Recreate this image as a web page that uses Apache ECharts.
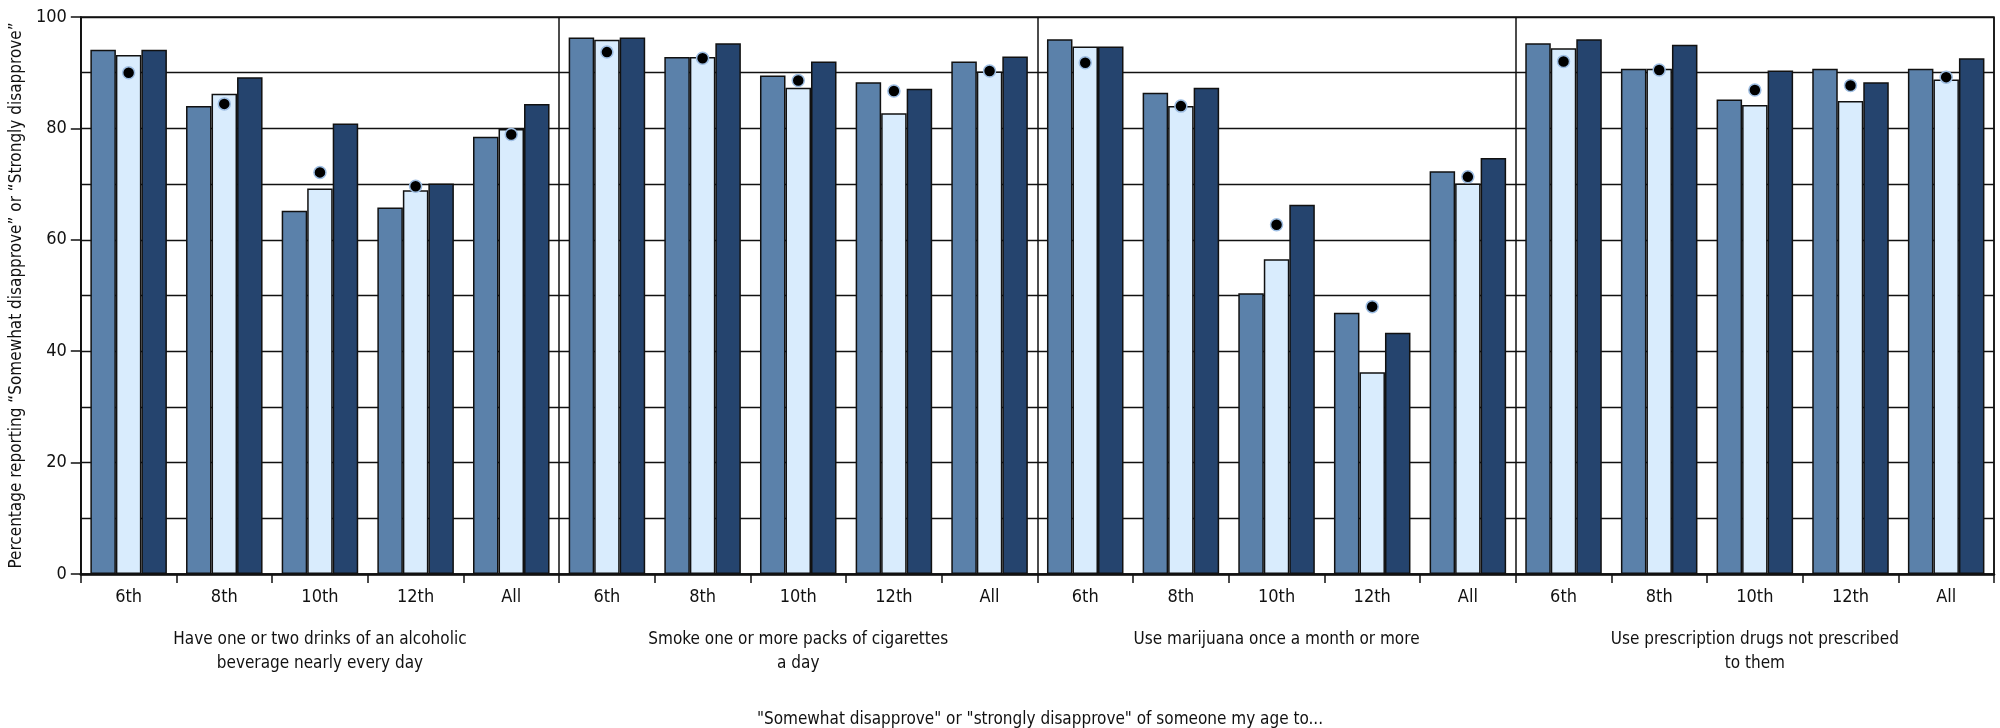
<!DOCTYPE html>
<html>

<head>
    <meta charset="utf-8">
    <script src="https://cdn.jsdelivr.net/npm/echarts@6/dist/echarts.min.js"></script>
</head>

<body style="margin:0">
<div id="main" style="position:absolute;top:0;left:0;width:2000px;height:728px;"></div>
<script type="text/javascript">

    var FONT = "'Liberation Sans Narrow', 'DejaVu Sans Condensed', 'Roboto', sans-serif";

    // grade levels repeated in every behaviour group
    var grades = ['6th', '8th', '10th', '12th', 'All'];
    var behaviors = [
        'Have one or two drinks of an alcoholic\nbeverage nearly every day',
        'Smoke one or more packs of cigarettes\na day',
        'Use marijuana once a month or more',
        'Use prescription drugs not prescribed\nto them'
    ];

    // bar values, one row per behaviour group (6th, 8th, 10th, 12th, All)
    var barFirst = [
        [94.1, 84.0, 65.2, 65.8, 78.5],
        [96.3, 92.8, 89.5, 88.3, 92.0],
        [96.0, 86.4, 50.4, 46.9, 72.3],
        [95.3, 90.7, 85.2, 90.7, 90.7]
    ];
    var barSecond = [
        [93.2, 86.2, 69.2, 68.9, 79.9],
        [95.9, 92.8, 87.3, 82.7, 90.2],
        [94.7, 84.0, 56.5, 36.2, 70.1],
        [94.4, 90.7, 84.2, 84.9, 88.8]
    ];
    var barThird = [
        [94.1, 89.2, 80.9, 70.1, 84.4],
        [96.3, 95.3, 92.0, 87.1, 92.9],
        [94.7, 87.3, 66.3, 43.3, 74.7],
        [96.0, 95.0, 90.4, 88.3, 92.6]
    ];
    // dot markers drawn over the middle bar
    var dots = [
        [90.0, 84.4, 72.1, 69.6, 78.9],
        [93.7, 92.6, 88.6, 86.7, 90.3],
        [91.8, 84.0, 62.7, 48.0, 71.3],
        [92.0, 90.5, 86.9, 87.7, 89.2]
    ];

    function flat(rows) {
        var out = [];
        rows.forEach(function (r) { out = out.concat(r); });
        return out;
    }

    var categories = [];
    behaviors.forEach(function () { categories = categories.concat(grades); });

    var barBorder = {borderColor: '#111', borderWidth: 1.5};

    var myChart = echarts.init(document.getElementById('main'));
    myChart.setOption({
        animation: false,
        textStyle: {fontFamily: FONT},
        title: {
            text: '"Somewhat disapprove" or "strongly disapprove" of someone my age to...',
            left: 1035,
            textAlign: 'center',
            top: 706,
            textStyle: {fontFamily: FONT, fontSize: 17, fontWeight: 'normal', color: '#111'}
        },
        grid: {
            left: 77, right: 6, top: 17, bottom: 154,
            show: true, borderColor: '#111', borderWidth: 1.5
        },
        xAxis: [{
            type: 'category',
            data: categories,
            axisLine: {lineStyle: {color: '#111', width: 2.5}},
            axisTick: {show: true, length: 9, interval: 0, lineStyle: {color: '#111', width: 1.5}},
            axisLabel: {interval: 0, margin: 14, fontSize: 18, color: '#111', fontFamily: FONT},
            splitLine: {show: false}
        }, {
            type: 'category',
            data: behaviors,
            position: 'bottom',
            axisLine: {show: false},
            axisTick: {show: false},
            axisLabel: {interval: 0, margin: 54, fontSize: 17, lineHeight: 24, color: '#111', fontFamily: FONT},
            splitLine: {show: true, interval: 0, lineStyle: {color: '#111', width: 1.5}}
        }],
        yAxis: {
            type: 'value',
            min: 0, max: 100, interval: 20,
            name: 'Percentage reporting \u201CSomewhat disapprove\u201D or \u201CStrongly disapprove\u201D',
            nameLocation: 'middle',
            nameGap: 46,
            nameTextStyle: {fontSize: 17, color: '#111', fontFamily: FONT},
            axisLine: {show: true, lineStyle: {color: '#111', width: 1.5}},
            axisTick: {show: true, length: 10, lineStyle: {color: '#111', width: 1.5}},
            axisLabel: {margin: 14, fontSize: 18, color: '#111', fontFamily: FONT},
            splitLine: {lineStyle: {color: '#111', width: 1.3}},
            minorTick: {show: false, splitNumber: 2},
            minorSplitLine: {show: true, lineStyle: {color: '#111', width: 1.3}}
        },
        series: [{
            name: 'Bar 1',
            type: 'bar',
            data: flat(barFirst),
            barGap: '0%',
            barCategoryGap: '20%',
            itemStyle: Object.assign({color: '#5b81aa'}, barBorder)
        }, {
            name: 'Bar 2',
            type: 'bar',
            data: flat(barSecond),
            barGap: '0%',
            barCategoryGap: '20%',
            itemStyle: Object.assign({color: '#d9ecfd'}, barBorder)
        }, {
            name: 'Bar 3',
            type: 'bar',
            data: flat(barThird),
            barGap: '0%',
            barCategoryGap: '20%',
            itemStyle: Object.assign({color: '#25446e'}, barBorder)
        }, {
            name: 'Dot',
            type: 'scatter',
            data: flat(dots),
            symbol: 'circle',
            symbolSize: 12,
            z: 5,
            itemStyle: {color: '#000', borderColor: '#9dbde2', borderWidth: 1.5, opacity: 1}
        }]
    });
</script>
</body>

</html>
